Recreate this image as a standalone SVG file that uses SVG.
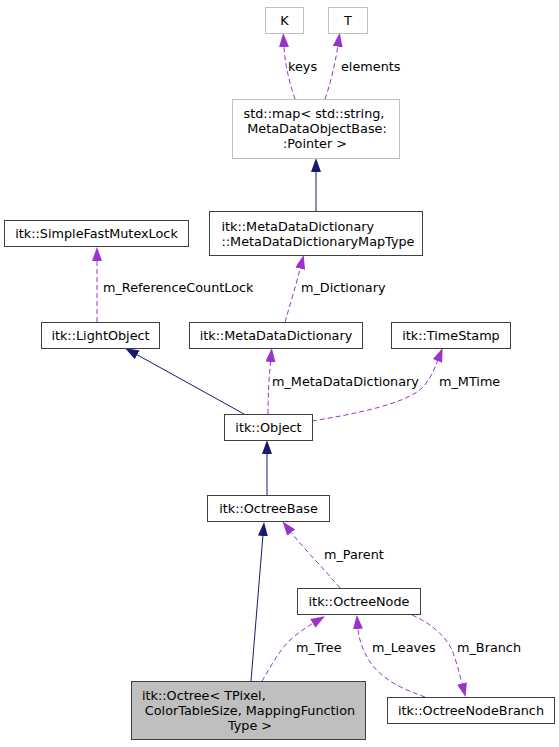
<svg xmlns="http://www.w3.org/2000/svg" width="559" height="747" viewBox="0 0 559 747">
<style>
text{font-family:"DejaVu Sans","Liberation Sans",sans-serif;font-size:12.8px;fill:#000}
.n{fill:#fff;stroke:#404040;stroke-width:1}
.g{fill:#fff;stroke:#bfbfbf;stroke-width:1}
.c{text-anchor:middle}
.inh{fill:none;stroke:#191970;stroke-width:1}
.use{fill:none;stroke:#9a32cd;stroke-width:1;stroke-dasharray:5,3}
</style>
<defs>
<marker id="an" markerUnits="userSpaceOnUse" markerWidth="14" markerHeight="10" viewBox="0 0 14 10" refX="0" refY="5" orient="auto"><path d="M0,0 L14,5 L0,10 z" fill="#191970"/></marker>
<marker id="ap" markerUnits="userSpaceOnUse" markerWidth="14" markerHeight="10" viewBox="0 0 14 10" refX="0" refY="5" orient="auto"><path d="M0,0 L14,5 L0,10 z" fill="#9a32cd"/></marker>
</defs>
<g id="connectors">
<path class="inh" d="M316,211 L316,172" marker-end="url(#an)"/>
<path class="inh" d="M244,414 L137.2,354.8" marker-end="url(#an)"/>
<path class="inh" d="M267,495 L267,454" marker-end="url(#an)"/>
<path class="inh" d="M251,681 L262.9,536" marker-end="url(#an)"/>
<path class="use" d="M295,99 C290,85 285,65 284,47" marker-end="url(#ap)"/>
<text x="288" y="70.5">keys</text>
<path class="use" d="M325,99 C330,85 335,65 337.7,46.6" marker-end="url(#ap)"/>
<text x="341" y="70.5">elements</text>
<path class="use" d="M285,322 C290,305 296,285 300.2,268.5" marker-end="url(#ap)"/>
<text x="301" y="291.5">m_Dictionary</text>
<path class="use" d="M97,322 L97,261" marker-end="url(#ap)"/>
<text x="103" y="291.5">m_ReferenceCountLock</text>
<path class="use" d="M268,414 C268,395 269,378 270.5,362" marker-end="url(#ap)"/>
<text x="272" y="385.5">m_MetaDataDictionary</text>
<path class="use" d="M312,421 C355,414 405,404 422,388 C430,380 434,370 437.5,361" marker-end="url(#ap)"/>
<text x="439" y="385.5">m_MTime</text>
<path class="use" d="M340,588 C325,570 305,550 291.2,532.5" marker-end="url(#ap)"/>
<text x="324" y="559">m_Parent</text>
<path class="use" d="M262,681 C270,668 278,652 290,640 C298,633 305,628 312.8,623.4" marker-end="url(#ap)"/>
<text x="296" y="652">m_Tree</text>
<path class="use" d="M425,697 C405,690 382,680 370,662 C363,651 359,640 358,629" marker-end="url(#ap)"/>
<text x="372" y="652">m_Leaves</text>
<path class="use" d="M412,615 C430,623 445,635 452,650 C456,660 459,672 462,683.5" marker-end="url(#ap)"/>
<text x="457" y="652">m_Branch</text>
</g>
<g id="K"><rect class="g" x="265.5" y="7.5" width="38" height="26"/><text class="c" x="284.5" y="25">K</text></g>
<g id="T"><rect class="g" x="328.5" y="7.5" width="39" height="26"/><text class="c" x="348" y="25">T</text></g>
<g id="stdmap"><rect class="g" x="232.5" y="99.5" width="167" height="59"/>
<text class="c" x="314" y="118">std::map&lt; std::string,</text>
<text class="c" x="317" y="133">MetaDataObjectBase:</text>
<text class="c" x="315" y="148">:Pointer &gt;</text></g>
<g id="MapType"><rect class="n" x="209.5" y="211.5" width="213" height="44"/>
<text x="221.5" y="231">itk::MetaDataDictionary</text>
<text x="221.5" y="246">::MetaDataDictionaryMapType</text></g>
<g id="Mutex"><rect class="n" x="4.5" y="220.5" width="184" height="26"/><text class="c" x="96.5" y="238">itk::SimpleFastMutexLock</text></g>
<g id="LightObject"><rect class="n" x="41.5" y="322.5" width="118" height="26"/><text class="c" x="100.5" y="340">itk::LightObject</text></g>
<g id="MetaDataDictionary"><rect class="n" x="189.5" y="322.5" width="173" height="26"/><text class="c" x="276" y="340">itk::MetaDataDictionary</text></g>
<g id="TimeStamp"><rect class="n" x="391.5" y="322.5" width="119" height="26"/><text class="c" x="451" y="340">itk::TimeStamp</text></g>
<g id="Object"><rect class="n" x="224.5" y="414.5" width="88" height="26"/><text class="c" x="268.5" y="432">itk::Object</text></g>
<g id="OctreeBase"><rect class="n" x="207.5" y="495.5" width="122" height="26"/><text class="c" x="268.5" y="513">itk::OctreeBase</text></g>
<g id="OctreeNode"><rect class="n" x="297.5" y="588.5" width="123" height="26"/><text class="c" x="359" y="606">itk::OctreeNode</text></g>
<g id="OctreeNodeBranch"><rect class="n" x="387.5" y="697.5" width="167" height="26"/><text class="c" x="471" y="715">itk::OctreeNodeBranch</text></g>
<g id="Octree"><rect x="131.5" y="681.5" width="234" height="58" fill="#bfbfbf" stroke="#404040"/>
<text x="142" y="700">itk::Octree&lt; TPixel,</text>
<text class="c" x="250" y="715">ColorTableSize, MappingFunction</text>
<text class="c" x="250" y="730">Type &gt;</text></g>
</svg>
